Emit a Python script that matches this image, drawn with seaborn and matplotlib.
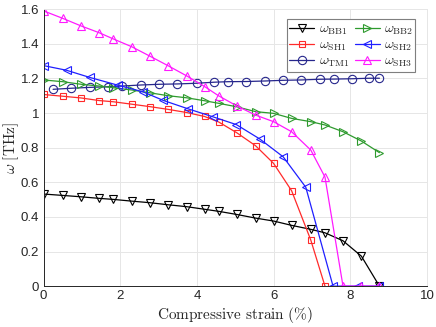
import numpy as np
import pandas as pd
import matplotlib
matplotlib.use('Agg')
import matplotlib.pyplot as plt
import seaborn as sns
from matplotlib.ticker import FormatStrFormatter

# strain values (%)
x_grid = [0, 0.5, 0.98, 1.45, 1.82, 2.3, 2.77, 3.25, 3.73, 4.2,
          4.57, 5.04, 5.53, 6.0, 6.47, 6.97, 7.34, 7.81, 8.29, 8.76]
x_sh1 = x_grid[:17]
x_sh2 = [0, 0.6, 1.2, 1.95, 2.6, 3.12, 3.76, 4.42, 5.03, 5.64, 6.25, 6.84, 7.55, 8.19, 8.76]
x_tm1 = [0.25, 0.72, 1.2, 1.68, 2.05, 2.55, 3.02, 3.49, 3.99, 4.45,
         4.81, 5.29, 5.77, 6.24, 6.72, 7.2, 7.57, 8.05, 8.5, 8.76]

# frequencies (THz)
w_bb1 = [0.532, 0.524, 0.516, 0.507, 0.501, 0.491, 0.482, 0.470, 0.459, 0.444,
         0.432, 0.414, 0.393, 0.376, 0.351, 0.328, 0.308, 0.262, 0.173, 0.0]
w_sh1 = [1.107, 1.097, 1.087, 1.072, 1.065, 1.051, 1.037, 1.021, 1.003, 0.980,
         0.948, 0.886, 0.811, 0.709, 0.551, 0.266, 0.0]
w_tm1 = [1.137, 1.143, 1.148, 1.152, 1.156, 1.162, 1.166, 1.168, 1.172, 1.178,
         1.181, 1.182, 1.185, 1.189, 1.191, 1.195, 1.196, 1.198, 1.201, 1.201]
w_bb2 = [1.191, 1.181, 1.166, 1.156, 1.146, 1.133, 1.117, 1.100, 1.088, 1.071,
         1.056, 1.036, 1.008, 0.998, 0.969, 0.950, 0.931, 0.892, 0.838, 0.771]
w_sh2 = [1.274, 1.247, 1.206, 1.160, 1.122, 1.073, 1.025, 0.978, 0.933, 0.850,
         0.747, 0.571, 0.0, 0.0, 0.0]
w_sh3 = [1.590, 1.547, 1.503, 1.464, 1.428, 1.383, 1.329, 1.273, 1.215, 1.153,
         1.099, 1.041, 0.988, 0.950, 0.892, 0.786, 0.630, 0.0, 0.0, 0.0]

sns.set_style('white')
plt.rcParams['font.family'] = ['Liberation Sans', 'DejaVu Sans']
plt.rcParams['mathtext.fontset'] = 'cm'

fig = plt.figure(figsize=(4.36, 3.27), dpi=100)
ax = fig.add_axes([0.0998, 0.125, 0.8795, 0.847])

# legend order is column-wise with ncol=2: BB1, SH1, TM1 | BB2, SH2, SH3
series = [
    (x_grid, w_bb1, 'v', '#000000', r'$\omega_{\mathrm{BB1}}$'),
    (x_sh1, w_sh1, 's', '#ff2a2a', r'$\omega_{\mathrm{SH1}}$'),
    (x_tm1, w_tm1, 'o', '#26268c', r'$\omega_{\mathrm{TM1}}$'),
    (x_grid, w_bb2, '>', '#2e9a2e', r'$\omega_{\mathrm{BB2}}$'),
    (x_sh2, w_sh2, '<', '#1f1fff', r'$\omega_{\mathrm{SH2}}$'),
    (x_grid, w_sh3, '^', '#ff1aff', r'$\omega_{\mathrm{SH3}}$'),
]
for xs, ys, mk, c, lab in series:
    ms = 5 if mk == 's' else 6
    sns.lineplot(x=xs, y=ys, ax=ax, color=c, label=lab, marker=mk, lw=0.9,
                 markersize=ms, markerfacecolor='none', markeredgecolor=c,
                 markeredgewidth=0.8, sort=False, estimator=None)

ax.set_xlim(0, 10)
ax.set_ylim(0, 1.6)
ax.set_xticks(np.arange(0, 11, 2))
ax.set_yticks(np.arange(0, 1.61, 0.2))
ax.yaxis.set_major_formatter(FormatStrFormatter('%g'))
ax.grid(True, color='#e6e6e6', lw=0.7)
ax.tick_params(direction='in', length=3, labelsize=9.5, colors='#262626', width=0.6, pad=3)
for s in ['left', 'bottom']:
    ax.spines[s].set_color('#262626')
    ax.spines[s].set_linewidth(0.7)
for s in ['top', 'right']:
    ax.spines[s].set_color('#e6e6e6')
    ax.spines[s].set_linewidth(0.7)

ax.set_xlabel(r'$\mathrm{Compressive\ strain\ (\%)}$', fontsize=11, labelpad=2)
ax.set_ylabel(r'$\omega\ [\mathrm{THz}]$', fontsize=11, labelpad=0)

leg = ax.legend(ncol=2, loc='upper right', bbox_to_anchor=(0.97, 0.965),
                fontsize=10, fancybox=False, edgecolor='#7f7f7f', framealpha=1,
                handlelength=1.8, handletextpad=0.3, columnspacing=0.4,
                labelspacing=0.05, borderpad=0.2, borderaxespad=0)
leg.get_frame().set_linewidth(0.8)

fig.savefig('out.png', dpi=100)
